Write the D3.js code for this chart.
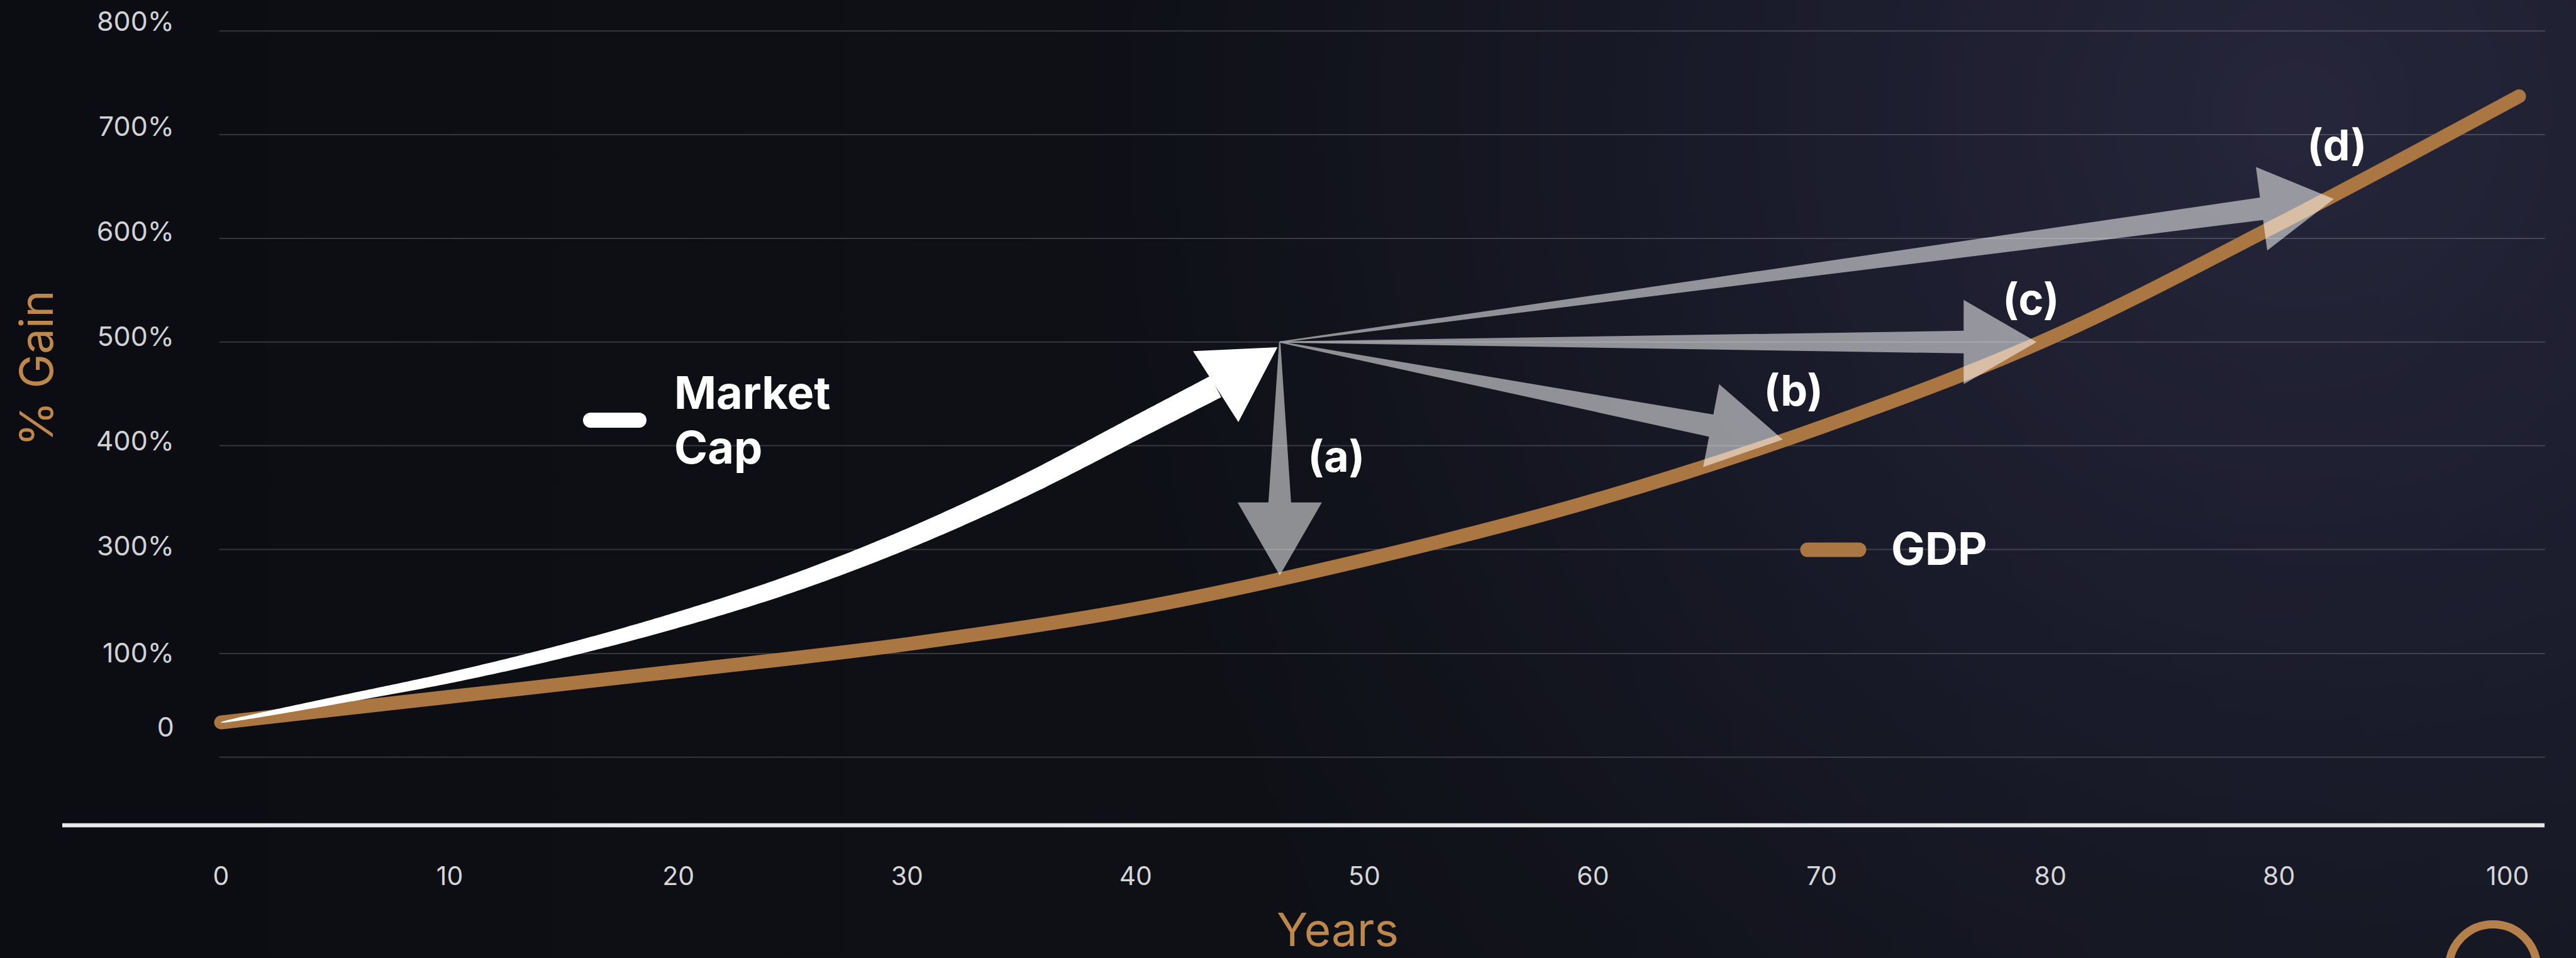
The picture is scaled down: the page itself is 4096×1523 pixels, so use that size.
<!DOCTYPE html>
<html>
<head>
<meta charset="utf-8">
<script src="https://cdn.jsdelivr.net/npm/d3@7"></script>
<style>
  html, body { margin: 0; padding: 0; background: #0d0e13; overflow: hidden; }
  svg { display: block; }
</style>
</head>
<body>
<svg id="chart" width="4096" height="1523"></svg>
<script>
// ---------- data ----------
const xTickValues = [0, 10, 20, 30, 40, 50, 60, 70, 80, 90, 100];
const xTickLabels = ["0", "10", "20", "30", "40", "50", "60", "70", "80", "80", "100"];
const yTickValues = [0, 100, 300, 400, 500, 600, 700, 800];
const yTickLabels = ["0", "100%", "300%", "400%", "500%", "600%", "700%", "800%"];

const gdpYears = [0, 10, 20, 30, 40, 50, 60, 70, 80, 90, 100.5];
const gdpGain  = [6, 41, 76, 118, 186, 280, 347, 418, 504, 614, 737];

const capYears = [0, 5, 10, 15, 20, 25, 30, 35, 40, 43.5];
const capGain  = [6, 36, 67, 105, 165, 235, 310, 360, 417, 457];
const capTip = { year: 46.2, gain: 495 };

const scenarioOrigin = { year: 46.3, gain: 500 };
const scenarioLabels = ["(a)", "(b)", "(c)", "(d)"];
const scenarioYears  = [46.3, 68.3, 79.4, 92.4];
const scenarioGain   = [250, 406, 500, 638];

// ---------- layout ----------
const W = 4096, H = 1523;
const svg = d3.select("#chart");

const x = d3.scaleLinear().domain([0, 100]).range([351.5, 3987.3]);
// the value axis is stretched unevenly between its labelled stops
const y = d3.scaleLinear().domain([0, 100, 300, 800]).range([1155.5, 1039.0, 873.4, 49.3]);

const gridLeft = 348.7, gridRight = 4046.7, plotBottom = 1203.8;
const orange = "#aa7641";
const orangeText = "#be874b";
const font = "Inter, 'Noto Sans', 'DejaVu Sans', sans-serif";

// ---------- background ----------
const defs = svg.append("defs");
const lin = defs.append("linearGradient").attr("id", "bgLin")
  .attr("gradientUnits", "userSpaceOnUse").attr("x1", 0).attr("y1", 0).attr("x2", W).attr("y2", 0);
lin.append("stop").attr("offset", 0).attr("stop-color", "#0c0d12");
lin.append("stop").attr("offset", 0.45).attr("stop-color", "#0e1016");
lin.append("stop").attr("offset", 1).attr("stop-color", "#13161f");
const rad = defs.append("radialGradient").attr("id", "bgGlow")
  .attr("gradientUnits", "userSpaceOnUse").attr("cx", 3650).attr("cy", 180).attr("r", 2000);
rad.append("stop").attr("offset", 0).attr("stop-color", "#2a2940").attr("stop-opacity", 0.85);
rad.append("stop").attr("offset", 0.5).attr("stop-color", "#23233a").attr("stop-opacity", 0.45);
rad.append("stop").attr("offset", 1).attr("stop-color", "#1a1a2a").attr("stop-opacity", 0);

svg.append("rect").attr("width", W).attr("height", H).attr("fill", "url(#bgLin)");
svg.append("rect").attr("width", W).attr("height", H).attr("fill", "url(#bgGlow)");

// ---------- grid ----------
const grid = svg.append("g").attr("stroke", "#ffffff").attr("stroke-opacity", 0.17).attr("stroke-width", 2);
grid.selectAll("line.g").data(yTickValues.filter(v => v > 0)).join("line")
  .attr("x1", gridLeft).attr("x2", gridRight)
  .attr("y1", d => y(d)).attr("y2", d => y(d));
grid.append("line").attr("x1", gridLeft).attr("x2", gridRight)
  .attr("y1", plotBottom).attr("y2", plotBottom);

// ---------- axes ----------
svg.append("line").attr("x1", 99).attr("x2", 4046).attr("y1", 1312).attr("y2", 1312)
  .attr("stroke", "#e8e8ea").attr("stroke-width", 6.5);

svg.append("g").selectAll("text").data(xTickValues).join("text")
  .attr("x", d => x(d)).attr("y", 1407)
  .attr("text-anchor", "middle")
  .attr("font-family", font).attr("font-size", 41).attr("fill", "#d6d6d9")
  .text((d, i) => xTickLabels[i]);

svg.append("g").selectAll("text").data(yTickValues).join("text")
  .attr("x", 277).attr("y", d => y(d) - 0.0194 * d)
  .attr("dy", "0.36em")
  .attr("text-anchor", "end")
  .attr("font-family", font).attr("font-size", 43).attr("fill", "#d2d2d5")
  .text((d, i) => yTickLabels[i]);

svg.append("text").attr("x", 2127).attr("y", 1504).attr("text-anchor", "middle")
  .attr("font-family", font).attr("font-size", 73).attr("fill", orangeText).text("Years");

svg.append("text").attr("transform", "translate(83.5,585.5) rotate(-90)")
  .attr("text-anchor", "middle")
  .attr("font-family", font).attr("font-size", 73).attr("fill", orangeText).text("% Gain");

// ---------- GDP line ----------
const line = d3.line().x(d => x(d[0])).y(d => y(d[1])).curve(d3.curveMonotoneX);
const gdpPts = gdpYears.map((yr, i) => [yr, gdpGain[i]]);
svg.append("path").attr("d", line(gdpPts))
  .attr("fill", "none").attr("stroke", orange).attr("stroke-width", 22)
  .attr("stroke-linecap", "round");

// ---------- market cap tapered arrow ----------
function taperedShape(d, w0, w1, k) {
  const p = svg.append("path").attr("d", d).attr("fill", "none").attr("stroke", "none");
  const node = p.node(), L = node.getTotalLength(), N = 300;
  const left = [], right = [];
  for (let i = 0; i <= N; i++) {
    const s = i / N, l = s * L;
    const a = node.getPointAtLength(Math.max(0, l - 2));
    const b = node.getPointAtLength(Math.min(L, l + 2));
    const c = node.getPointAtLength(l);
    let tx = b.x - a.x, ty = b.y - a.y;
    const m = Math.hypot(tx, ty) || 1; tx /= m; ty /= m;
    const w = (w0 + (w1 - w0) * Math.pow(s, k)) / 2;
    left.push([c.x - ty * w, c.y + tx * w]);
    right.push([c.x + ty * w, c.y - tx * w]);
  }
  p.remove();
  const pts = left.concat(right.reverse());
  return "M" + pts.map(q => q[0].toFixed(2) + "," + q[1].toFixed(2)).join("L") + "Z";
}

const capPts = capYears.map((yr, i) => [yr, capGain[i]]);
svg.append("path").attr("d", taperedShape(line(capPts), 1, 38, 0.55)).attr("fill", "#ffffff");

{
  const last = capPts[capPts.length - 1];
  const bx = x(last[0]), by = y(last[1]);
  const tx = x(capTip.year), ty = y(capTip.gain);
  let ux = tx - bx, uy = ty - by; const m = Math.hypot(ux, uy); ux /= m; uy /= m;
  const nx = -uy, ny = ux, hw = 67;
  svg.append("path")
    .attr("d", `M${bx + nx * hw},${by + ny * hw}L${tx},${ty}L${bx - nx * hw},${by - ny * hw}Z`)
    .attr("fill", "#ffffff");
}

// ---------- scenario arrows ----------
const fan = svg.append("g").attr("opacity", 0.53);
const ox = x(scenarioOrigin.year), oy = y(scenarioOrigin.gain);
scenarioYears.forEach((yr, i) => {
  const tx = x(yr), ty = y(scenarioGain[i]);
  let ux = tx - ox, uy = ty - oy; const m = Math.hypot(ux, uy); ux /= m; uy /= m;
  const nx = -uy, ny = ux;
  const headLen = 116, headHalf = 67, shaftHalf = 18, startHalf = 1;
  const bx = tx - ux * headLen, by = ty - uy * headLen;
  const pts = [
    [ox + nx * startHalf, oy + ny * startHalf],
    [bx + nx * shaftHalf, by + ny * shaftHalf],
    [bx + nx * headHalf, by + ny * headHalf],
    [tx, ty],
    [bx - nx * headHalf, by - ny * headHalf],
    [bx - nx * shaftHalf, by - ny * shaftHalf],
    [ox - nx * startHalf, oy - ny * startHalf]
  ];
  fan.append("path").attr("d", "M" + pts.map(q => q.join(",")).join("L") + "Z").attr("fill", "#ffffff");
});

// labels of the scenario arrows, offset from each arrow tip
const labelOffsets = [[90, -165], [17, -54], [-9, -44], [5, -61]];
svg.append("g").selectAll("text").data(scenarioLabels).join("text")
  .attr("x", (d, i) => x(scenarioYears[i]) + labelOffsets[i][0])
  .attr("y", (d, i) => y(scenarioGain[i]) + labelOffsets[i][1])
  .attr("text-anchor", "middle")
  .attr("font-family", font).attr("font-weight", 700).attr("font-size", 68).attr("fill", "#ffffff")
  .text(d => d);

// ---------- legend ----------
svg.append("line").attr("x1", 939).attr("x2", 1016).attr("y1", 668).attr("y2", 668)
  .attr("stroke", "#ffffff").attr("stroke-width", 24).attr("stroke-linecap", "round");
const mk = svg.append("text").attr("font-family", font).attr("font-weight", 700)
  .attr("font-size", 72).attr("fill", "#ffffff");
mk.append("tspan").attr("x", 1072).attr("y", 650).text("Market");
mk.append("tspan").attr("x", 1072).attr("y", 737).text("Cap");

svg.append("line").attr("x1", 2874).attr("x2", 2956).attr("y1", 874).attr("y2", 874)
  .attr("stroke", orange).attr("stroke-width", 23).attr("stroke-linecap", "round");
svg.append("text").attr("x", 3007).attr("y", 898)
  .attr("font-family", font).attr("font-weight", 700).attr("font-size", 72).attr("fill", "#ffffff")
  .text("GDP");

// ---------- corner badge ----------
svg.append("circle").attr("cx", 3964).attr("cy", 1539.5).attr("r", 70)
  .attr("fill", "none").attr("stroke", "#b5804a").attr("stroke-width", 13);
</script>
</body>
</html>
